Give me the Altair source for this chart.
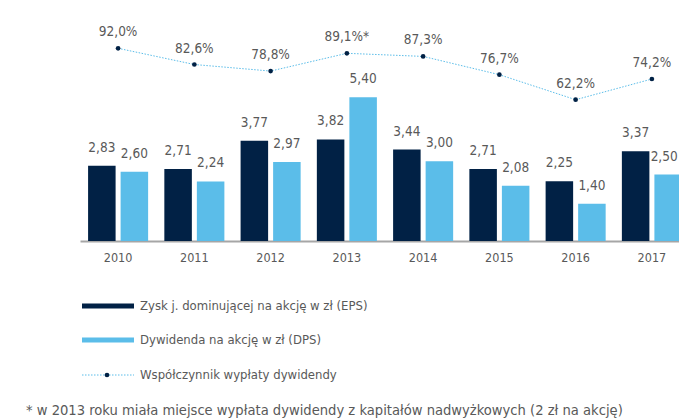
import altair as alt
import pandas as pd

years = ["2010", "2011", "2012", "2013", "2014", "2015", "2016", "2017"]
eps = [2.83, 2.71, 3.77, 3.82, 3.44, 2.71, 2.25, 3.37]
dps = [2.60, 2.24, 2.97, 5.40, 3.00, 2.08, 1.40, 2.50]
payout = [92.0, 82.6, 78.8, 89.1, 87.3, 76.7, 62.2, 74.2]
payout_labels = ["92,0%", "82,6%", "78,8%", "89,1%*", "87,3%", "76,7%", "62,2%", "74,2%"]
series_names = ["EPS", "DPS"]
legend_texts = [
    "Zysk j. dominującej na akcję w zł (EPS)",
    "Dywidenda na akcję w zł (DPS)",
    "Współczynnik wypłaty dywidendy",
]
footnote = "* w 2013 roku miała miejsce wypłata dywidendy z kapitałów nadwyżkowych (2 zł na akcję)"

NAVY = "#012145"
LIGHT = "#5bbde9"
GRAY = "#595959"
FONT = "Tahoma, 'DejaVu Sans Condensed', 'Liberation Sans Narrow', 'Liberation Sans', sans-serif"

rows = []
for i, y in enumerate(years):
    rows.append({"year": y, "series": "EPS", "value": eps[i], "label": f"{eps[i]:.2f}".replace(".", ",")})
    rows.append({"year": y, "series": "DPS", "value": dps[i], "label": f"{dps[i]:.2f}".replace(".", ",")})
bars_df = pd.DataFrame(rows)
line_df = pd.DataFrame({"year": years, "payout": payout, "label": payout_labels})

last_year = years[-1]
is_edge = f"datum.year == '{last_year}' && datum.series == 'DPS'"

xscale = alt.Scale(domain=years, paddingInner=0.2126, paddingOuter=0.106)
x_enc = alt.X("year:N", scale=xscale, sort=years,
              axis=alt.Axis(title=None, ticks=False, domainColor="#a6a6a6", domainWidth=2,
                            labelColor=GRAY, labelFontSize=12.5, labelFont=FONT, labelPadding=10,
                            labelAngle=0, grid=False))
bar_y = alt.Y("value:Q", scale=alt.Scale(domain=[0, 8.76], nice=False, zero=True), axis=None)
xoff = alt.XOffset("series:N", sort=series_names, scale=alt.Scale(paddingInner=0.154, paddingOuter=0))

bars = alt.Chart(bars_df).mark_bar().encode(
    x=x_enc,
    xOffset=xoff,
    y=bar_y,
    color=alt.Color("series:N", scale=alt.Scale(domain=series_names, range=[NAVY, LIGHT]), legend=None),
)
bar_text = alt.Chart(bars_df).mark_text(baseline="middle", dy=-18, fontSize=13.5, font=FONT, color=GRAY).encode(
    x=alt.X("year:N", scale=xscale, sort=years),
    xOffset=xoff,
    y=bar_y,
    text="label:N",
).transform_filter(f"!({is_edge})")
bar_text_edge = alt.Chart(bars_df).mark_text(baseline="middle", dy=-18, dx=-4, fontSize=13.5, font=FONT, color=GRAY).encode(
    x=alt.X("year:N", scale=xscale, sort=years),
    xOffset=xoff,
    y=bar_y,
    text="label:N",
).transform_filter(is_edge)
bar_layer = alt.layer(bars, bar_text, bar_text_edge)

line_y = alt.Y("payout:Q", scale=alt.Scale(domain=[-19.7, 115.36], nice=False, zero=False), axis=None)
line = alt.Chart(line_df).mark_line(color=LIGHT, strokeWidth=1, strokeDash=[1.5, 1.5]).encode(
    x=alt.X("year:N", scale=xscale, sort=years), y=line_y)
pts = alt.Chart(line_df).mark_point(filled=True, size=22, color=NAVY, opacity=1).encode(
    x=alt.X("year:N", scale=xscale, sort=years), y=line_y)
line_text = alt.Chart(line_df).mark_text(baseline="middle", dy=-16, fontSize=13.5, font=FONT, color=GRAY).encode(
    x=alt.X("year:N", scale=xscale, sort=years), y=line_y, text="label:N")
line_layer = alt.layer(line, pts, line_text)

one = alt.Data(values=[{"a": 1}])
leg1 = alt.Chart(one).mark_rule(color=NAVY, strokeWidth=5).encode(
    x=alt.value(2), x2=alt.value(54), y=alt.value(298))
leg2 = alt.Chart(one).mark_rule(color=LIGHT, strokeWidth=5).encode(
    x=alt.value(2), x2=alt.value(54), y=alt.value(332))
leg3 = alt.Chart(one).mark_rule(color=LIGHT, strokeWidth=1, strokeDash=[1.5, 1.5]).encode(
    x=alt.value(2), x2=alt.value(54), y=alt.value(367))
leg3p = alt.Chart(one).mark_point(filled=True, size=22, color=NAVY, opacity=1).encode(
    x=alt.value(27), y=alt.value(367))
leg_df = pd.DataFrame({"t": legend_texts, "yy": [298, 332, 367]})
leg_text = alt.Chart(leg_df).mark_text(align="left", baseline="middle", fontSize=13, font=FONT, color=GRAY).encode(
    x=alt.value(60), y=alt.Y("yy:Q", scale=None), text="t:N")
foot = alt.Chart(pd.DataFrame({"t": [footnote]})).mark_text(
    align="left", baseline="middle", fontSize=14.6, font=FONT, color=GRAY).encode(
    x=alt.value(-54), y=alt.value(403), text="t:N")
deco = alt.layer(leg1, leg2, leg3, leg3p, leg_text, foot)

chart = alt.layer(bar_layer, line_layer, deco).resolve_scale(y="independent").properties(
    width=610, height=233,
    autosize=alt.AutoSizeParams(type="none"),
    padding={"left": 72, "top": 0, "right": -11, "bottom": 178},
).configure_view(stroke=None)

chart.save("out.html", embed_options={"renderer": "svg", "actions": False})
